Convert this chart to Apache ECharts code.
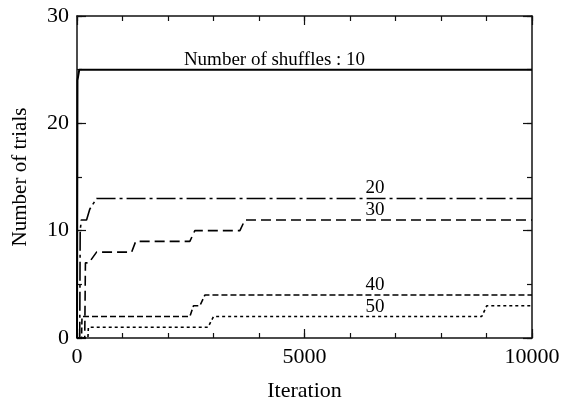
<!DOCTYPE html>
<html>
<head>
<meta charset="utf-8">
<script src="https://cdn.jsdelivr.net/npm/echarts@6/dist/echarts.min.js"></script>
<style>html,body{margin:0;padding:0;background:#fff;}#c{width:571px;height:407px;}</style>
</head>
<body>
<div id="c"></div>
<script>
// Data: [iteration, number of trials]
var shuffle10 = [[0,0],[10,24],[30,24],[50,25],[10000,25]];
var shuffle20 = [[0,0],[60,0],[70,10],[95,11],[210,11],[280,12],[320,12],[430,13],[10000,13]];
var shuffle30 = [[0,0],[170,0],[185,7],[260,7],[430,8],[1200,8],[1290,9],[2480,9],[2590,10],[3580,10],[3690,11],[10000,11]];
var shuffle40 = [[0,0],[100,0],[110,2],[2480,2],[2560,3],[2700,3],[2810,4],[10000,4]];
var shuffle50 = [[0,0],[240,0],[250,1],[2880,1],[3000,2],[8895,2],[9005,3],[10000,3]];

var seriesNames = ['10','20','30','40','50'];
var annotationText = ['Number of shuffles : 10','20','30','40','50'];
var annotationIter = [4340,6550,6550,6550,6550];
var annotationValue = [25,13,11,4,2];

var xTicks = {min:0,max:10000,interval:5000,minorInterval:1000};
var yTicks = {min:0,max:30,interval:10,minorInterval:5};

var font = 'Liberation Serif, Times New Roman, serif';
var allData = [shuffle10, shuffle20, shuffle30, shuffle40, shuffle50];
var dashTypes = ['solid',[19,4,3,4],[10,5],[6,3],[3,3]];
var widths = [2,1.6,1.6,1.6,1.6];

function makeAxis(kind, pos, showLabel, minor){
  var t = kind === 'x' ? xTicks : yTicks;
  var a = {
    type:'value', position:pos, min:t.min, max:t.max,
    interval: minor ? t.minorInterval : t.interval,
    axisLine:{show:!minor,onZero:false,lineStyle:{color:'#111',width:1.5}},
    axisTick:{show:true,inside:true,length:minor?5:9,lineStyle:{color:'#111',width:1.2}},
    splitLine:{show:false},
    axisLabel:{show:showLabel,color:'#000',fontFamily:font,fontSize:22,margin:8,
               formatter:function(v){return String(v);}}
  };
  if(showLabel && kind==='x'){
    a.name='Iteration'; a.nameLocation='middle'; a.nameGap=42;
    a.nameTextStyle={color:'#000',fontFamily:font,fontSize:22};
  }
  if(showLabel && kind==='y'){
    a.name='Number of trials'; a.nameLocation='middle'; a.nameGap=46;
    a.nameTextStyle={color:'#000',fontFamily:font,fontSize:21};
  }
  return a;
}

var series = allData.map(function(d,i){
  return {
    name: seriesNames[i],
    type:'line',
    data:d,
    xAxisIndex:0, yAxisIndex:0,
    showSymbol:false, symbol:'none',
    animation:false,
    z: 10 - i,
    lineStyle:{color:'#000',width:widths[i],type:dashTypes[i]},
    markPoint:{
      symbol:'rect', symbolSize:1,
      itemStyle:{color:'transparent'},
      silent:true,
      animation:false,
      label:{show:true,position:'top',distance:0,color:'#000',fontFamily:font,fontSize:19,
             formatter:annotationText[i]},
      data:[{coord:[annotationIter[i],annotationValue[i]]}]
    }
  };
});

var chart = echarts.init(document.getElementById('c'),null,{renderer:'canvas'});
chart.setOption({
  backgroundColor:'#fff',
  animation:false,
  grid:{left:77,right:39,top:16,bottom:65,containLabel:false},
  xAxis:[makeAxis('x','bottom',true,false), makeAxis('x','top',false,false),
         makeAxis('x','bottom',false,true), makeAxis('x','top',false,true)],
  yAxis:[makeAxis('y','left',true,false), makeAxis('y','right',false,false),
         makeAxis('y','left',false,true), makeAxis('y','right',false,true)],
  series:series
});
</script>
</body>
</html>
